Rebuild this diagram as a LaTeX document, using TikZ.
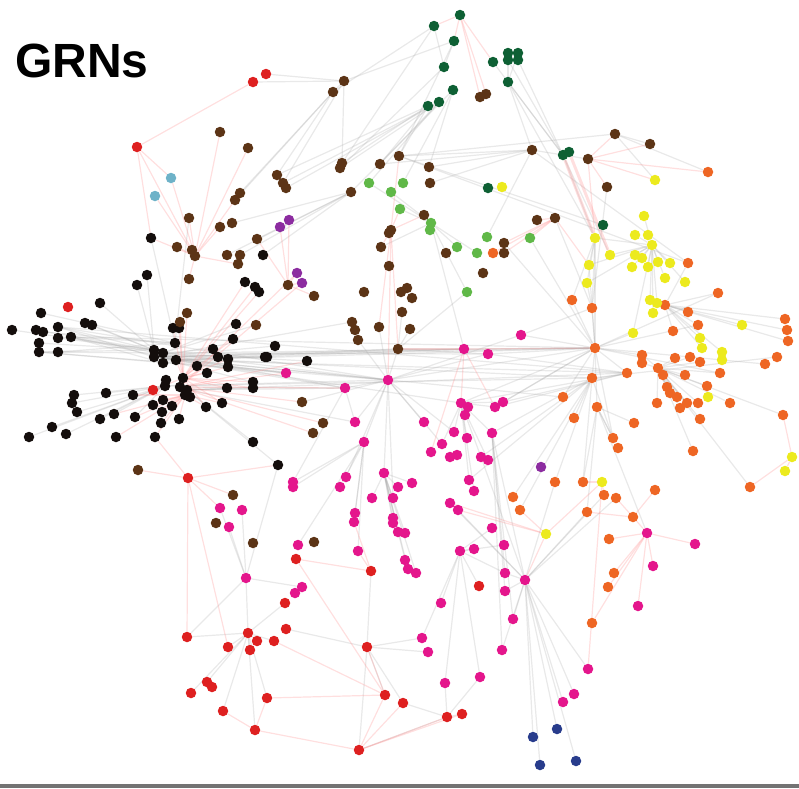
\documentclass[tikz,border=0pt]{standalone}
\usepackage{fontspec}
\newfontfamily\grnsans{Liberation Sans}
\usetikzlibrary{backgrounds}
\definecolor{grnblack}{RGB}{20,14,12}
\definecolor{grnbrown}{RGB}{92,52,22}
\definecolor{grnmagenta}{RGB}{228,22,140}
\definecolor{grnorange}{RGB}{238,102,36}
\definecolor{grnyellow}{RGB}{236,234,30}
\definecolor{grnred}{RGB}{222,32,32}
\definecolor{grndkgreen}{RGB}{14,96,52}
\definecolor{grnltgreen}{RGB}{96,184,72}
\definecolor{grnpurple}{RGB}{140,44,160}
\definecolor{grncyan}{RGB}{110,178,200}
\definecolor{grnblue}{RGB}{40,60,140}
\tikzset{
  gene/.style={circle, inner sep=0pt, minimum size=10.5pt, draw=none},
  link/.style={gray!70, line width=1.2pt, opacity=0.25},
  redlink/.style={red!45, line width=1.2pt, opacity=0.28},
}

\begin{document}
\begin{tikzpicture}[x=1pt, y=-1pt]
    \useasboundingbox (0,0) rectangle (799,788);
    \fill[black!55] (0,784) rectangle (799,788);

    % Title
    \node[anchor=base west, inner sep=0pt, font=\grnsans\bfseries\fontsize{48}{56}\selectfont] (title) at (15,77) {GRNs};

    % Black module
    \foreach \x/\y [count=\i] in {151/238, 263/255, 147/275, 137/285, 245/282, 255/287, 259/292, 100/303, 41/313, 12/330,
        36/330, 43/332, 58/327, 58/338, 71/337, 39/343, 39/352, 58/352, 85/323, 92/325,
        173/328, 179/328, 175/343, 154/350, 163/353, 154/357, 163/363, 176/360, 236/324, 233/339,
        213/349, 218/357, 228/359, 228/367, 197/366, 207/373, 265/357, 166/380, 165/386, 183/378,
        180/387, 187/390, 190/397, 185/395, 227/388, 253/382, 253/388, 222/403, 206/407, 153/405,
        163/400, 172/406, 162/412, 179/419, 161/423, 155/437, 133/395, 106/393, 74/395, 72/403,
        77/412, 114/414, 100/419, 135/417, 52/427, 29/437, 66/434, 116/437, 253/442, 275/346,
        267/357, 307/361, 278/465}
      \node[gene, fill=grnblack] (k\i) at (\x,\y) {};

    % Brown module
    \foreach \x/\y [count=\i] in {220/132, 248/148, 240/193, 235/200, 189/218, 220/227, 232/223, 257/239, 177/247, 192/250,
        195/256, 227/255, 240/255, 344/81, 333/92, 399/156, 380/164, 342/163, 340/168, 429/167,
        430/183, 277/175, 283/183, 286/188, 351/192, 424/215, 391/230, 389/233, 381/247, 446/253,
        504/243, 504/253, 532/150, 615/134, 650/144, 588/159, 607/187, 537/220, 555/218, 189/279,
        238/264, 187/313, 180/322, 256/325, 288/285, 314/296, 389/266, 364/292, 401/292, 407/288,
        412/298, 402/312, 379/327, 410/329, 352/322, 355/330, 358/340, 398/349, 483/273, 302/402,
        323/423, 313/433, 138/470, 233/495, 216/523, 253/543, 314/542, 480/97, 486/94}
      \node[gene, fill=grnbrown] (b\i) at (\x,\y) {};

    % Dark green module
    \foreach \x/\y [count=\i] in {434/26, 460/15, 454/41, 444/67, 453/90, 428/106, 439/102, 493/62, 508/53, 518/53,
        508/60, 518/60, 508/82, 563/155, 603/225, 488/188, 569/152}
      \node[gene, fill=grndkgreen] (g\i) at (\x,\y) {};

    % Light green module
    \foreach \x/\y [count=\i] in {369/183, 391/192, 403/183, 400/209, 431/223, 430/230, 457/247, 477/253, 487/237, 530/238,
        467/292}
      \node[gene, fill=grnltgreen] (l\i) at (\x,\y) {};

    % Purple, cyan and blue modules
    \foreach \x/\y [count=\i] in {280/227, 289/220, 297/273, 302/283, 541/467}
      \node[gene, fill=grnpurple] (p\i) at (\x,\y) {};
    \foreach \x/\y [count=\i] in {171/178, 155/196}
      \node[gene, fill=grncyan] (c\i) at (\x,\y) {};
    \foreach \x/\y [count=\i] in {533/737, 557/729, 540/765, 576/761}
      \node[gene, fill=grnblue] (u\i) at (\x,\y) {};

    % Red module
    \foreach \x/\y [count=\i] in {253/82, 266/74, 137/147, 68/307, 153/390, 188/478, 187/637, 228/647, 248/633, 257/641,
        250/650, 207/682, 212/687, 191/693, 223/711, 255/730, 267/698, 296/559, 371/571, 285/603,
        286/629, 274/641, 367/647, 385/695, 403/703, 447/717, 462/714, 359/750, 479/586}
      \node[gene, fill=grnred] (r\i) at (\x,\y) {};

    % Magenta module
    \foreach \x/\y [count=\i] in {220/508, 242/510, 229/527, 246/578, 286/373, 345/388, 388/380, 464/349, 488/354, 521/335,
        355/422, 364/442, 424/422, 461/403, 468/407, 465/415, 495/407, 503/402, 454/432, 467/438,
        492/433, 442/444, 431/452, 450/457, 457/455, 481/457, 488/460, 293/482, 293/487, 346/477,
        340/487, 384/473, 398/487, 412/483, 372/498, 393/498, 469/480, 474/491, 450/503, 458/510,
        355/513, 393/518, 354/522, 393/523, 398/532, 405/533, 298/545, 358/551, 405/560, 408/569,
        416/573, 460/551, 474/549, 492/528, 504/545, 505/573, 505/591, 525/580, 441/603, 302/587,
        295/593, 422/638, 428/652, 513/619, 502/650, 445/683, 480/677, 647/533, 695/544, 653/566,
        638/606, 588/669, 574/694, 563/702}
      \node[gene, fill=grnmagenta] (m\i) at (\x,\y) {};

    % Orange module
    \foreach \x/\y [count=\i] in {493/253, 708/172, 688/263, 718/293, 572/300, 592/308, 665/305, 688/312, 698/325, 673/331,
        785/319, 787/330, 788/341, 777/357, 765/364, 595/348, 642/355, 642/363, 675/358, 690/357,
        700/362, 627/373, 658/368, 663/375, 685/375, 592/378, 720/373, 707/386, 667/387, 670/393,
        677/397, 680/408, 657/403, 687/403, 698/403, 730/403, 563/397, 597/407, 574/418, 634/423,
        700/419, 783/415, 613/438, 618/448, 693/451, 555/482, 583/482, 604/495, 616/498, 655/490,
        750/487, 587/512, 633/517, 513/497, 520/510, 609/539, 614/573, 608/587, 592/623}
      \node[gene, fill=grnorange] (o\i) at (\x,\y) {};

    % Yellow module
    \foreach \x/\y [count=\i] in {502/187, 655/180, 644/216, 595/238, 610/255, 589/265, 587/283, 635/235, 648/235, 652/245,
        635/255, 642/258, 632/267, 648/267, 658/262, 670/263, 665/278, 685/282, 650/300, 657/303,
        653/313, 633/333, 742/325, 700/338, 702/348, 722/352, 722/360, 708/397, 792/457, 785/471,
        602/482, 546/534}
      \node[gene, fill=grnyellow] (y\i) at (\x,\y) {};

    % Regulatory links
    \begin{scope}[on background layer]
      \foreach \src/\dsts in {k26/{o16,m7,o26,m8,k70,b58,m5,m6,k37,k46,b55,o37,m14},
          k25/{m7,o16,k29,k31,b44,k72,m9},
          k24/{k10,k11,k13,k14,k16,k17,k19,k20,k8,k3,k4},
          k23/{k9,k12,k15,k18,k1,b5},
          k13/{k26,m7,o22}, k17/{k25,m5,m7}, k15/{k27,k28,m6,o16},
          k28/{o16,m8,b58,o22,m5},
          k39/{k58,k59,k60,k61,k65,k66,k67,k62,k63,k64,m7,o26},
          k42/{k45,k47,k69,k73,m11,m6,o22},
          m7/{b58,b53,m11,m12,m30,m32,m36,m19,m6,b57,b60,m13,m22,o16,m9,m10},
          o16/{o17,o22,o26,m8,m9,m10,y6,y4,o5,o6,m14,m18,m17,o37,o38,o43,b31,l10,y22,o9,o27,o15,o4},
          o26/{o39,o43,o46,o47,m21,m37,o54,o55,m26,o14},
          o22/{m14,m17,m18,m9}, o6/{m10,y7,b39,b37}, o38/{o40,o43,o44,o47,o52,m68},
          m58/{m72,m73,m74,u1,u2,u3,u4,m64,m65,m56,m57,o48,o49,m21,m26,o52,o46,m39,m40},
          m21/{m56,m57,m64,m65},
          g6/{b16,b17,b18,b22}, g5/{b20,l3,b25}, g4/{g1,g3,b19},
          g7/{b17,b19,b23,b24,l1}, g3/{b14,b16}, g1/{b15,b18},
          g13/{g9,g10,g14,y4,b33}, g14/{g8,g11,g12,b33,b36,y4,y5},
          b33/{b16,b17,b20,b21,l9,o3}, b15/{b3,b4,b22,b14}, b14/{r1,r2,b18,b23},
          b16/{o3,b34,g15}, b34/{b35,o2,y2},
          b25/{b7,b8,b12,b13,k2}, l5/{l1,l2,l4,l7,l8,b26,b29,m8,l11}, b58/{b52,b54,m8,l11,m9},
          m14/{m15,m16,m19,m20,m21,m22,m17,m18,m26,m27,m37,m38},
          m12/{m28,m29,m31,m41,m43,m47,m48}, m6/{m11,m28,k41},
          m32/{m33,m34,m35,m36,m42,m44,m45,m46,m49,m50,m51},
          m52/{m53,m54,m55,m56,m59,m62,m66,m67,r29},
          o23/{o17,o18,o19,o20,o21,o24,o25,o29,o30,o31,o32,o33,o34,o35,o28,o27,o36,o41,o45,o42,o51},
          y10/{y3,y4,y5,y8,y9,y11,y12,y13,y14,y15,y16,y17,y18,y19,y20,y21,y22,y7,y6},
          y4/{y6,y7,o5,o6},
          o7/{o8,o9,o10,o4,o3,y24,y25,y26,y23,o11,o12,o13},
          m4/{r7,r9,m3,m1,m2,k73,m60},
          r9/{r7,r8,r10,r11,r12,r14,r15,r16,r17,r20,r22},
          r23/{r21,r24,r25,r28,r19,m62,m63}, r26/{r27,r25,r28,m66,m67}}
        \foreach \dst in \dsts
          \draw[link] (\src) -- (\dst);

      \foreach \src/\dsts in {k40/{k21,k22,k28,k35,k36,k30,k33,k34,k45,k46,k47,k48,k49,k5,k6,k7,b43,b42,r5},
          k44/{k50,k51,k52,k53,k54,k55,k56,k57,k62,k64,k68,k48,k49},
          b11/{b1,b2,b3,b5,b6,b9,b10,b40,b41,k1,c1,c2,r3},
          r3/{r1,c1,k1}, r6/{k56,r7,r8,k73,b63,m1,b64},
          r16/{r28,r15,r17}, r28/{r24,r25,r26,r27}, r24/{r17,r22,r23,r18}, r19/{m48,r18,m43},
          b27/{b16,b26,b29,m7,b53,b58,l4}, g2/{g1,g3,g8,b68,b69},
          b36/{b34,b35,b37,y2,o2,y4}, b39/{b38,l10,y6,b31,b32,o1},
          m8/{m14,m17,o16,m23,b58}, k41/{m5,m6,b60,b61,b62,k72,p3,p4},
          b45/{p1,p2,p3,p4,b46,b8}, m68/{m69,m70,m71,o56,o57,o58,o59},
          o53/{o50,o49,o52,m68}, y31/{o48,o47,m72,y32}, y32/{m39,m40,m58,o55},
          y29/{y30,o42,o51}}
        \foreach \dst in \dsts
          \draw[redlink] (\src) -- (\dst);

      % Pink band below the dark green pair
      \draw[redlink, line width=3pt] (g14) -- (y4);
      \draw[redlink, line width=3pt] (g17) -- (y5);
    \end{scope}
\end{tikzpicture}
\end{document}
